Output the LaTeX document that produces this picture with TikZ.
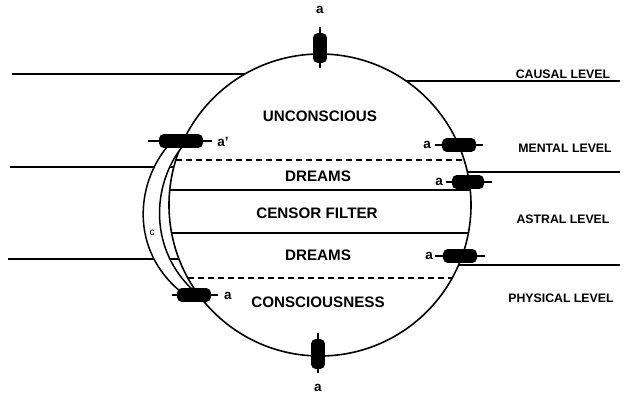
\documentclass[tikz,border=0pt]{standalone}
\usepackage{fontspec}
\setmainfont{Liberation Sans}
\usetikzlibrary{positioning,calc}
\tikzset{
  zone/.style={font=\bfseries\fontsize{15.2}{16}\selectfont},
  level/.style={font=\bfseries\fontsize{12.3}{13}\selectfont},
  tag/.style={font=\bfseries\fontsize{13.5}{14}\selectfont, inner sep=1pt},
  reshor/.style={draw, fill=black, rounded corners=3.5pt, minimum width=32pt, minimum height=12pt, inner sep=0pt},
  resver/.style={draw, fill=black, rounded corners=3.5pt, minimum width=12pt, minimum height=28pt, inner sep=0pt},
  wire/.style={line width=1.8pt},
}
\begin{document}
\begin{tikzpicture}[x=1pt,y=-1pt,line width=1.6pt]
    \useasboundingbox (0,0) rectangle (624,395);
    % the sphere and its levels
    \draw (320,205) coordinate (o) circle (151);
    \draw[line width=1.2pt, dashed, dash pattern=on 6pt off 4pt] (175.9,160) -- (464.1,160);
    \draw[line width=1.2pt] (169.7,190) -- (470.3,190);
    \draw[line width=1.2pt] (171.6,233) -- (468.4,233);
    \draw[line width=1.2pt, dashed, dash pattern=on 6pt off 4pt] (187.8,278) -- (452.2,278);
    % level boundaries outside
    \draw (12,74) -- (244.9,74);
    \draw (10,167) -- (173.9,167);
    \draw (8,259) -- (179,259);
    \draw (406.2,81) -- (620,81);
    \draw (467.4,172) -- (620,172);
    \draw (458.6,265) -- (620,265);
    % band c
    \fill[white] (167,147) .. controls (136,185) and (130,250) .. (181,292)
        -- (195,292) .. controls (148,250) and (152,185) .. (182,147) -- cycle;
    \draw[line width=1.5pt] (167,147) .. controls (136,185) and (130,250) .. (181,292);
    \draw[line width=1.5pt] (182,147) .. controls (152,185) and (148,250) .. (195,292);
    \node[font=\fontsize{10}{10}\selectfont, inner sep=0pt] (c) at (152,233) {c};
    % resistors
    \draw[wire] (320,27) -- (320,68);
    \node[resver] (rtop) at (320,48) {};
    \draw[wire] (318,333) -- (318,373);
    \node[resver] (rbot) at (318,354) {};
    \draw[wire] (148,141) -- (212,141);
    \node[reshor, minimum width=42pt] (rlu) at (181,141) {};
    \draw[wire] (172,295) -- (218,295);
    \node[reshor] (rll) at (194,295) {};
    \draw[wire] (435,145) -- (483,145);
    \node[reshor] (rru) at (459,145) {};
    \draw[wire] (446,182) -- (492,182);
    \node[reshor, minimum width=30pt] (rrm) at (468,182) {};
    \draw[wire] (435,256) -- (485,256);
    \node[reshor] (rrl) at (460,256) {};
    % tags
    \node[tag] (atop) at (320,10) {a};
    \node[tag] (abot) at (318,388) {a};
    \node[tag] (alu) at (223,142) {a'};
    \node[tag] (all) at (228,296) {a};
    \node[tag] (aru) at (427,145) {a};
    \node[tag] (arm) at (439,182) {a};
    \node[tag] (arl) at (429,256) {a};
    % zone labels
    \node[zone] (uncon) at (320,116) {UNCONSCIOUS};
    \node[zone] (dream1) at (318,176) {DREAMS};
    \node[zone] (censor) at (317,213) {CENSOR FILTER};
    \node[zone] (dream2) at (318,255) {DREAMS};
    \node[zone] (consc) at (318,302) {CONSCIOUSNESS};
    % level labels
    \node[level] (causal) at (563,74) {CAUSAL LEVEL};
    \node[level] (mental) at (565,148) {MENTAL LEVEL};
    \node[level] (astral) at (563,219) {ASTRAL LEVEL};
    \node[level] (phys) at (561,298) {PHYSICAL LEVEL};
\end{tikzpicture}
\end{document}
